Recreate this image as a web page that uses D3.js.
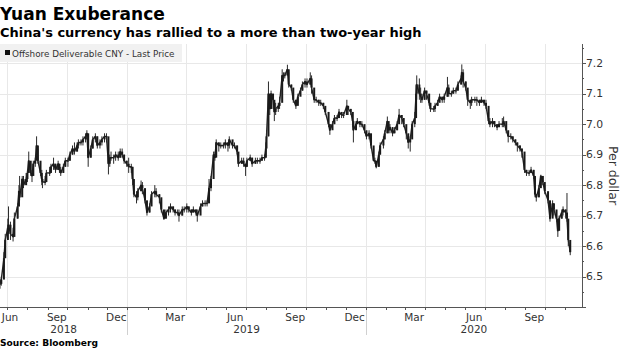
<!DOCTYPE html>
<html><head><meta charset="utf-8">
<script src="https://cdn.jsdelivr.net/npm/d3@7"></script>
<style>body{margin:0;background:#fff}svg{display:block}</style>
</head><body><svg id="c" width="620" height="348"></svg>
<script>
const dates = [
"2018-06-20","2018-06-22","2018-06-26","2018-06-28",
"2018-07-02","2018-07-03","2018-07-06","2018-07-10","2018-07-12","2018-07-17","2018-07-19","2018-07-20","2018-07-24","2018-07-26","2018-07-30",
"2018-08-01","2018-08-03","2018-08-06","2018-08-08","2018-08-10","2018-08-13","2018-08-15","2018-08-17","2018-08-21","2018-08-23","2018-08-24","2018-08-28","2018-08-30",
"2018-09-04","2018-09-06","2018-09-10","2018-09-13","2018-09-17","2018-09-19","2018-09-21","2018-09-25","2018-09-28",
"2018-10-02","2018-10-05","2018-10-09","2018-10-12","2018-10-16","2018-10-18","2018-10-22","2018-10-25","2018-10-29","2018-10-31",
"2018-11-02","2018-11-06","2018-11-09","2018-11-13","2018-11-16","2018-11-20","2018-11-23","2018-11-27","2018-11-30",
"2018-12-03","2018-12-05","2018-12-07","2018-12-11","2018-12-14","2018-12-18","2018-12-21","2018-12-24","2018-12-27","2018-12-31",
"2019-01-03","2019-01-07","2019-01-09","2019-01-11","2019-01-15","2019-01-17","2019-01-22","2019-01-24","2019-01-28","2019-01-31",
"2019-02-04","2019-02-07","2019-02-12","2019-02-14","2019-02-19","2019-02-22","2019-02-26",
"2019-03-01","2019-03-05","2019-03-08","2019-03-12","2019-03-15","2019-03-19","2019-03-21","2019-03-26","2019-03-29",
"2019-04-02","2019-04-05","2019-04-09","2019-04-12","2019-04-16","2019-04-18","2019-04-23","2019-04-26","2019-04-30",
"2019-05-03","2019-05-06","2019-05-09","2019-05-13","2019-05-15","2019-05-17","2019-05-21","2019-05-24","2019-05-28","2019-05-31",
"2019-06-04","2019-06-06","2019-06-11","2019-06-14","2019-06-18","2019-06-20","2019-06-25","2019-06-28",
"2019-07-01","2019-07-03","2019-07-08","2019-07-11","2019-07-16","2019-07-19","2019-07-23","2019-07-26","2019-07-30",
"2019-08-01","2019-08-02","2019-08-05","2019-08-07","2019-08-09","2019-08-12","2019-08-14","2019-08-16","2019-08-20","2019-08-22","2019-08-26","2019-08-28","2019-08-30",
"2019-09-03","2019-09-05","2019-09-09","2019-09-12","2019-09-16","2019-09-19","2019-09-23","2019-09-26","2019-09-30",
"2019-10-03","2019-10-08","2019-10-10","2019-10-14","2019-10-17","2019-10-21","2019-10-24","2019-10-28","2019-10-31",
"2019-11-05","2019-11-07","2019-11-11","2019-11-14","2019-11-18","2019-11-21","2019-11-25","2019-11-28",
"2019-12-03","2019-12-05","2019-12-09","2019-12-12","2019-12-13","2019-12-17","2019-12-19","2019-12-23","2019-12-26","2019-12-30",
"2020-01-02","2020-01-06","2020-01-09","2020-01-13","2020-01-15","2020-01-17","2020-01-21","2020-01-23","2020-01-28","2020-01-30",
"2020-02-03","2020-02-05","2020-02-07","2020-02-11","2020-02-14","2020-02-18","2020-02-21","2020-02-25","2020-02-28",
"2020-03-03","2020-03-06","2020-03-09","2020-03-12","2020-03-16","2020-03-18","2020-03-19","2020-03-23","2020-03-25","2020-03-27","2020-03-31",
"2020-04-03","2020-04-07","2020-04-09","2020-04-14","2020-04-16","2020-04-20","2020-04-23","2020-04-27","2020-04-30",
"2020-05-05","2020-05-07","2020-05-11","2020-05-14","2020-05-18","2020-05-21","2020-05-26","2020-05-27","2020-05-29",
"2020-06-02","2020-06-05","2020-06-09","2020-06-11","2020-06-16","2020-06-19","2020-06-23","2020-06-26","2020-06-30",
"2020-07-03","2020-07-07","2020-07-09","2020-07-13","2020-07-16","2020-07-20","2020-07-23","2020-07-28","2020-07-30",
"2020-08-03","2020-08-06","2020-08-10","2020-08-13","2020-08-17","2020-08-20","2020-08-24","2020-08-27","2020-08-31",
"2020-09-03","2020-09-07","2020-09-10","2020-09-14","2020-09-16","2020-09-18","2020-09-22","2020-09-25","2020-09-28",
"2020-10-01","2020-10-06","2020-10-09","2020-10-13","2020-10-15","2020-10-19","2020-10-21","2020-10-23","2020-10-27","2020-10-29",
"2020-11-02","2020-11-04","2020-11-06","2020-11-09"
];
const closes = [
6.476,6.49,6.56,6.62,
6.66,6.67,6.64,6.63,6.69,6.73,6.78,6.76,6.82,6.80,6.82,
6.84,6.88,6.84,6.83,6.87,6.88,6.93,6.88,6.84,6.82,6.81,6.81,6.84,
6.84,6.86,6.87,6.85,6.87,6.85,6.84,6.86,6.88,
6.88,6.90,6.92,6.91,6.93,6.94,6.94,6.95,6.96,6.97,
6.89,6.92,6.95,6.96,6.93,6.94,6.95,6.96,6.96,
6.87,6.89,6.89,6.89,6.90,6.89,6.91,6.90,6.88,6.87,
6.86,6.86,6.82,6.77,6.76,6.78,6.80,6.79,6.75,6.71,
6.73,6.77,6.78,6.77,6.76,6.72,6.69,
6.71,6.72,6.73,6.72,6.71,6.71,6.70,6.72,6.72,
6.73,6.72,6.71,6.72,6.71,6.70,6.73,6.74,6.74,
6.74,6.79,6.82,6.90,6.89,6.94,6.93,6.93,6.93,6.94,
6.93,6.95,6.93,6.93,6.91,6.87,6.88,6.87,
6.86,6.88,6.89,6.87,6.88,6.88,6.88,6.89,6.89,
6.92,6.96,7.10,7.05,7.10,7.08,7.04,7.05,7.06,7.07,7.16,7.16,7.16,
7.18,7.13,7.12,7.08,7.06,7.09,7.11,7.13,7.14,
7.13,7.15,7.12,7.08,7.08,7.07,7.07,7.06,7.04,
7.00,6.98,7.00,7.02,7.02,7.04,7.03,7.03,
7.06,7.05,7.04,7.01,6.98,7.00,7.01,7.00,7.00,6.98,
6.96,6.97,6.93,6.88,6.88,6.86,6.90,6.93,6.95,6.97,
7.01,6.98,6.99,6.97,6.98,7.00,7.03,7.02,7.00,
6.97,6.94,6.95,7.00,7.02,7.10,7.13,7.10,7.09,7.08,7.11,
7.10,7.07,7.05,7.05,7.06,7.07,7.09,7.08,7.09,
7.12,7.10,7.10,7.11,7.11,7.13,7.15,7.17,7.14,
7.12,7.08,7.07,7.08,7.08,7.08,7.07,7.08,7.07,
7.06,7.01,7.00,7.01,7.00,6.99,7.00,7.00,7.01,
6.98,6.96,6.96,6.95,6.94,6.93,6.92,6.91,6.85,
6.84,6.84,6.85,6.83,6.77,6.76,6.79,6.83,6.81,
6.78,6.75,6.69,6.74,6.72,6.69,6.65,6.69,6.71,6.72,
6.71,6.69,6.62,6.58
];
const highs = [
6.49,6.50,6.58,6.64,
6.69,6.73,6.68,6.66,6.71,6.74,6.80,6.83,6.83,6.83,6.84,
6.85,6.91,6.87,6.85,6.88,6.89,6.96,6.92,6.87,6.85,6.82,6.83,6.85,
6.86,6.87,6.89,6.87,6.88,6.87,6.86,6.87,6.89,
6.89,6.91,6.93,6.94,6.94,6.95,6.95,6.96,6.97,6.98,
6.96,6.93,6.96,6.97,6.96,6.95,6.96,6.97,6.97,
6.89,6.90,6.91,6.90,6.91,6.91,6.92,6.92,6.90,6.88,
6.89,6.87,6.86,6.80,6.78,6.79,6.815,6.81,6.78,6.73,
6.74,6.78,6.80,6.79,6.77,6.74,6.71,
6.72,6.73,6.74,6.73,6.72,6.72,6.72,6.73,6.73,
6.74,6.73,6.72,6.73,6.72,6.72,6.74,6.75,6.75,
6.75,6.82,6.83,6.91,6.91,6.95,6.94,6.94,6.94,6.95,
6.94,6.96,6.94,6.94,6.93,6.90,6.89,6.89,
6.87,6.89,6.90,6.89,6.89,6.89,6.89,6.90,6.90,
6.94,6.98,7.14,7.09,7.11,7.10,7.07,7.07,7.07,7.09,7.18,7.17,7.17,
7.195,7.17,7.13,7.11,7.08,7.10,7.12,7.14,7.15,
7.15,7.17,7.16,7.10,7.09,7.08,7.08,7.07,7.05,
7.04,7.00,7.01,7.03,7.03,7.05,7.04,7.04,
7.08,7.06,7.05,7.04,7.00,7.01,7.02,7.01,7.01,6.99,
6.97,6.98,6.95,6.92,6.89,6.87,6.91,6.94,6.96,6.98,
7.025,7.00,7.00,6.99,6.99,7.01,7.05,7.03,7.02,
6.99,6.96,6.96,7.01,7.04,7.13,7.16,7.15,7.12,7.10,7.12,
7.11,7.09,7.07,7.06,7.07,7.08,7.10,7.09,7.10,
7.155,7.13,7.11,7.12,7.12,7.14,7.16,7.196,7.18,
7.14,7.11,7.08,7.09,7.09,7.09,7.08,7.09,7.08,
7.08,7.04,7.02,7.02,7.01,7.00,7.01,7.02,7.025,
7.00,6.97,6.97,6.96,6.95,6.94,6.93,6.92,6.88,
6.85,6.85,6.86,6.85,6.80,6.77,6.80,6.834,6.83,
6.80,6.77,6.73,6.75,6.74,6.71,6.67,6.70,6.72,6.73,
6.72,6.774,6.66,6.60
];
const lows = [
6.46,6.47,6.53,6.58,
6.62,6.64,6.62,6.615,6.66,6.69,6.73,6.75,6.77,6.79,6.80,
6.81,6.84,6.83,6.81,6.84,6.86,6.89,6.87,6.83,6.80,6.79,6.80,6.81,
6.83,6.84,6.85,6.84,6.85,6.84,6.83,6.84,6.86,
6.86,6.88,6.90,6.90,6.91,6.92,6.93,6.93,6.94,6.95,
6.86,6.89,6.92,6.94,6.92,6.92,6.93,6.94,6.94,
6.835,6.86,6.88,6.87,6.88,6.88,6.89,6.89,6.87,6.86,
6.84,6.84,6.80,6.76,6.74,6.75,6.78,6.77,6.74,6.70,
6.71,6.74,6.76,6.76,6.74,6.71,6.686,
6.69,6.70,6.71,6.71,6.70,6.70,6.68,6.70,6.71,
6.71,6.71,6.70,6.71,6.70,6.68,6.71,6.73,6.73,
6.73,6.75,6.78,6.85,6.88,6.90,6.91,6.92,6.92,6.92,
6.91,6.92,6.92,6.92,6.90,6.86,6.87,6.86,
6.83,6.86,6.88,6.86,6.87,6.87,6.87,6.88,6.88,
6.89,6.92,6.96,7.03,7.05,7.05,7.01,7.03,7.04,7.05,7.12,7.14,7.15,
7.16,7.12,7.11,7.07,7.05,7.07,7.10,7.11,7.12,
7.12,7.13,7.10,7.07,7.07,7.06,7.06,7.05,7.03,
6.99,6.965,6.99,7.00,7.01,7.02,7.02,7.02,
7.03,7.03,7.03,6.99,6.94,6.99,7.00,6.99,6.99,6.97,
6.95,6.95,6.92,6.88,6.87,6.855,6.86,6.90,6.92,6.95,
6.97,6.97,6.97,6.96,6.97,6.98,7.01,7.00,6.99,
6.95,6.92,6.91,6.96,6.99,7.02,7.08,7.08,7.07,7.07,7.08,
7.08,7.06,7.04,7.04,7.04,7.06,7.08,7.07,7.07,
7.09,7.09,7.09,7.10,7.10,7.11,7.13,7.14,7.12,
7.11,7.06,7.05,7.06,7.07,7.06,7.06,7.07,7.06,
7.05,7.00,6.99,6.99,6.99,6.98,6.99,6.99,6.99,
6.97,6.94,6.95,6.94,6.93,6.91,6.91,6.89,6.84,
6.83,6.83,6.84,6.82,6.76,6.746,6.76,6.80,6.80,
6.77,6.74,6.68,6.70,6.70,6.68,6.63,6.66,6.69,6.70,
6.69,6.68,6.60,6.57
];
const yTicks = [6.5, 6.6, 6.7, 6.8, 6.9, 7.0, 7.1, 7.2];
const monthLabelDates = ["2018-06-15","2018-09-15","2018-12-15","2019-03-15","2019-06-15","2019-09-15","2019-12-15","2020-03-15","2020-06-15","2020-09-15"];
const monthLabels = ["Jun","Sep","Dec","Mar","Jun","Sep","Dec","Mar","Jun","Sep"];
const years = ["2018","2019","2020"];
const titleText = "Yuan Exuberance";
const subtitleText = "China's currency has rallied to a more than two-year high";
const legendText = "Offshore Deliverable CNY - Last Price";
const sourceText = "Source: Bloomberg";
const axisTitle = "Per dollar";

const svg = d3.select("#c");
const parse = d3.timeParse("%Y-%m-%d");
const L = 0, R = 582, T = 44, B = 307;
const x = d3.scaleTime().domain([parse("2018-06-20"), parse("2020-11-27")]).range([L, R]);
const y = d3.scaleLinear().domain([6.4, 7.263]).range([B, T]);
const data = dates.map((d, i) => ({date: parse(d), c: closes[i], h: highs[i], l: lows[i], o: i > 0 ? closes[i-1] : closes[i]}));

const sans = "'DejaVu Sans', Verdana, sans-serif";
const grid = svg.append("g").attr("shape-rendering", "crispEdges");
grid.selectAll("line.h").data(yTicks).join("line")
  .attr("x1", L).attr("x2", R).attr("y1", d => Math.round(y(d)) + 0.5).attr("y2", d => Math.round(y(d)) + 0.5)
  .attr("stroke", "#e8e8e8");
const quarters = d3.timeMonth.every(3).range(x.domain()[0], x.domain()[1]);
grid.selectAll("line.v").data(quarters).join("line")
  .attr("x1", d => Math.round(x(d)) + 0.5).attr("x2", d => Math.round(x(d)) + 0.5)
  .attr("y1", T).attr("y2", B).attr("stroke", "#e8e8e8");
const yearStarts = d3.timeYear.range(x.domain()[0], x.domain()[1]);
grid.selectAll("line.yr").data(yearStarts).join("line")
  .attr("x1", d => Math.round(x(d)) + 0.5).attr("x2", d => Math.round(x(d)) + 0.5)
  .attr("y1", B).attr("y2", 335).attr("stroke", "#d0d0d0");

svg.append("rect").attr("x", 0).attr("y", T).attr("width", 182).attr("height", 18).attr("fill", "#f1f1f1");
svg.append("rect").attr("x", 5).attr("y", 50).attr("width", 5).attr("height", 5).attr("fill", "#111");
svg.append("text").attr("x", 12).attr("y", 57).attr("font-family", sans).attr("font-size", 8.8)
  .attr("fill", "#333").text(legendText);

const cg = svg.append("g");
cg.append("path").datum(data)
  .attr("d", d3.line().x(d => x(d.date)).y(d => y(d.c)))
  .attr("fill", "none").attr("stroke", "#222").attr("stroke-width", 1.4).attr("stroke-linejoin", "round");
cg.selectAll("line.w").data(data).join("line")
  .attr("x1", d => x(d.date)).attr("x2", d => x(d.date))
  .attr("y1", d => y(d.h)).attr("y2", d => y(d.l))
  .attr("stroke", "#2a2a2a").attr("stroke-width", 1);
cg.selectAll("rect.b").data(data).join("rect")
  .attr("x", d => x(d.date) - 1).attr("width", 2)
  .attr("y", d => y(Math.max(d.o, d.c)))
  .attr("height", d => Math.max(0.8, Math.abs(y(d.o) - y(d.c))))
  .attr("fill", "#1a1a1a");

const ax = svg.append("g").attr("shape-rendering", "crispEdges").attr("stroke", "#555");
ax.append("line").attr("x1", L).attr("x2", R + 1).attr("y1", B + 0.5).attr("y2", B + 0.5);
ax.append("line").attr("x1", R + 0.5).attr("x2", R + 0.5).attr("y1", T).attr("y2", B + 1);
const months = d3.timeMonth.range(x.domain()[0], x.domain()[1]);
ax.selectAll("line.mt").data(months).join("line")
  .attr("x1", d => Math.round(x(d)) + 0.5).attr("x2", d => Math.round(x(d)) + 0.5)
  .attr("y1", B).attr("y2", B + 3);
const minor = d3.range(6.4, 7.26, 0.05).map(v => +v.toFixed(2));
ax.selectAll("line.yt").data(minor).join("line")
  .attr("x1", R).attr("x2", d => R + (Math.abs(d * 10 - Math.round(d * 10)) < 0.01 ? 4 : 2))
  .attr("y1", d => Math.round(y(d)) + 0.5).attr("y2", d => Math.round(y(d)) + 0.5);

svg.selectAll("text.yl").data(yTicks).join("text")
  .attr("x", R + 4).attr("y", d => y(d)).attr("dy", "0.35em")
  .attr("font-family", sans).attr("font-size", 10.8).attr("fill", "#333")
  .text(d => d.toFixed(1));

svg.append("text").attr("transform", `translate(613,${(T + B) / 2}) rotate(90)`)
  .attr("text-anchor", "middle").attr("dy", "0.35em")
  .attr("font-family", sans).attr("font-size", 12.5).attr("fill", "#333").text(axisTitle);

svg.selectAll("text.ml").data(monthLabelDates).join("text")
  .attr("x", d => Math.max(10, x(parse(d)))).attr("y", 321)
  .attr("text-anchor", "middle").attr("font-family", sans).attr("font-size", 10.5).attr("fill", "#333")
  .text((d, i) => monthLabels[i]);

svg.selectAll("text.yrl").data(years).join("text")
  .attr("x", d => {
    const a = Math.max(L, x(parse(d + "-01-01")));
    const b = Math.min(R, x(parse((+d + 1) + "-01-01")));
    return (a + b) / 2;
  }).attr("y", 333)
  .attr("text-anchor", "middle").attr("font-family", sans).attr("font-size", 10.5).attr("fill", "#333")
  .text(d => d);

function fitText(sel, target) {
  const w = sel.node().getComputedTextLength();
  const fs = parseFloat(sel.attr("font-size"));
  sel.attr("font-size", fs * target / w);
}
const t1 = svg.append("text").attr("x", 0).attr("y", 19.5).attr("font-family", sans).attr("font-weight", "bold")
  .attr("font-size", 17).attr("fill", "#000").text(titleText);
fitText(t1, 165);
const t2 = svg.append("text").attr("x", 0).attr("y", 36.5).attr("font-family", sans).attr("font-weight", "bold")
  .attr("font-size", 12).attr("fill", "#000").text(subtitleText);
fitText(t2, 422);
const t3 = svg.append("text").attr("x", 0).attr("y", 345.5).attr("font-family", sans).attr("font-weight", "bold")
  .attr("font-size", 9).attr("fill", "#000").text(sourceText);
fitText(t3, 98);
</script></body></html>
